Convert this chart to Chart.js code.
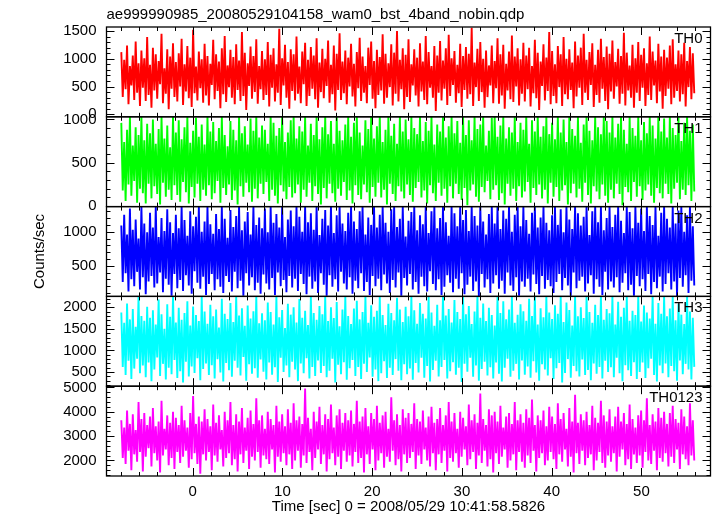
<!DOCTYPE html>
<html>
<head>
<meta charset="utf-8">
<title>WAM light curve</title>
<script src="https://cdn.jsdelivr.net/npm/chart.js@4.4.1/dist/chart.umd.min.js"></script>
<style>
  html, body { margin: 0; padding: 0; background: #fff; }
  #wrap { position: relative; width: 717px; height: 516px; }
</style>
</head>
<body>
<div id="wrap"><canvas id="lcChart" width="717" height="516"></canvas></div>
<script>
const fileTitle = "ae999990985_20080529104158_wam0_bst_4band_nobin.qdp";
const xTitle = "Time [sec] 0 = 2008/05/29 10:41:58.5826";
const yTitle = "Counts/sec";
const bandNames = ["TH0", "TH1", "TH2", "TH3", "TH0123"];
const bandColors = ["#ff0000", "#00ff00", "#0000ff", "#00ffff", "#ff00ff"];

// time bins (sec from reference time)
const tStart = -7.95;
const binSize = 0.16;

// counts/sec, one value per bin
const th0 = [
  1120, 310, 980, 450, 1240, 180, 870, 520, 1060, 260, 1310, 390, 920, 150, 1150, 480, 1010, 240, 1390, 350,
  890, 120, 1200, 430, 1080, 280, 960, 540, 1450, 200, 830, 370, 1170, 90, 1040, 460, 1280, 310, 940, 230,
  1100, 500, 1360, 170, 900, 410, 1230, 290, 1020, 130, 1520, 380, 860, 250, 1130, 470, 990, 210, 1270, 340,
  1050, 160, 910, 530, 1340, 270, 1080, 420, 950, 110, 1190, 360, 1410, 220, 880, 490, 1160, 300, 1030, 180,
  1260, 440, 970, 240, 1480, 330, 1110, 80, 920, 510, 1220, 280, 1050, 400, 1350, 190, 870, 450, 1140, 260,
  990, 350, 1300, 140, 1070, 480, 1190, 230, 900, 390, 1540, 170, 1010, 520, 1250, 300, 940, 100, 1170, 420,
  1080, 250, 1400, 370, 860, 200, 1130, 540, 1290, 150, 980, 330, 1210, 460, 1060, 270, 1370, 120, 930, 400,
  1180, 290, 1000, 510, 1330, 210, 890, 360, 1240, 70, 1090, 440, 1460, 260, 950, 380, 1150, 180, 1020, 500,
  1270, 320, 910, 140, 1120, 470, 1380, 240, 1040, 390, 870, 200, 1200, 530, 1310, 280, 960, 110, 1160, 350,
  1030, 430, 1440, 190, 1090, 300, 920, 490, 1260, 160, 1110, 370, 1500, 230, 980, 450, 1190, 90, 1070, 310,
  1350, 220, 900, 520, 1170, 340, 1020, 140, 1280, 410, 950, 260, 1410, 180, 1120, 480, 870, 300, 1230, 60,
  1060, 390, 1320, 250, 970, 460, 1190, 170, 1430, 330, 1010, 530, 1140, 210, 890, 380, 1270, 130, 1050, 440,
  1210, 280, 1090, 360, 1560, 150, 930, 490, 1180, 240, 1300, 400, 1000, 120, 1150, 310, 880, 520, 1240, 200,
  960, 470, 1370, 190, 1080, 340, 1250, 100, 910, 430, 1130, 270, 1420, 220, 1040, 500, 1190, 160, 990, 370,
  1290, 230, 1060, 450, 1200, 140, 870, 380, 1340, 290, 1110, 80, 950, 510, 1260, 250, 1020, 420, 1480, 180,
  1140, 330, 900, 200, 1230, 490, 1080, 150, 1390, 360, 1000, 270, 1170, 440, 930, 110, 1310, 320, 1060, 480,
  1200, 170, 1450, 390, 980, 260, 1120, 530, 1280, 130, 890, 350, 1160, 210, 1360, 460, 1030, 240, 1220, 90,
  1090, 410, 1330, 280, 940, 500, 1180, 190, 1050, 370, 1470, 160, 1110, 430, 880, 300, 1250, 120, 1010, 390,
  1300, 240, 1070, 480, 1190, 150, 920, 350, 1400, 260, 1130, 520, 970, 200, 1270, 410, 1040, 100, 1160, 330,
  1020, 460, 1240, 180, 1350, 300, 900, 420, 1150, 230, 1080, 360, 1290, 140, 960, 490, 1210, 270, 1100, 380
];
const th1 = [
  960, 180, 740, 60, 880, 250, 1030, 120, 700, 290, 910, 40, 820, 200, 1030, 150, 760, 30, 950, 260,
  840, 90, 1000, 230, 720, 140, 890, 20, 1030, 270, 780, 110, 930, 190, 680, 70, 1030, 240, 850, 130,
  990, 50, 770, 280, 910, 160, 1030, 30, 730, 220, 870, 100, 1020, 260, 800, 60, 940, 190, 710, 120,
  1030, 240, 860, 80, 970, 150, 750, 290, 900, 40, 1030, 210, 820, 130, 690, 250, 980, 70, 880, 180,
  760, 20, 1030, 230, 840, 110, 920, 270, 710, 160, 1010, 50, 870, 200, 1030, 90, 790, 260, 930, 140,
  880, 280, 720, 60, 1030, 190, 960, 120, 810, 30, 900, 240, 1030, 170, 740, 80, 850, 220, 990, 100,
  1030, 150, 780, 250, 920, 40, 860, 190, 1030, 110, 700, 270, 950, 60, 820, 230, 1030, 140, 770, 20,
  910, 210, 1030, 90, 830, 260, 980, 150, 720, 50, 1030, 200, 870, 120, 760, 280, 940, 70, 1030, 180,
  800, 30, 960, 240, 1030, 130, 850, 80, 700, 250, 990, 160, 890, 40, 1030, 220, 780, 110, 920, 270,
  1030, 100, 740, 190, 880, 20, 1030, 260, 810, 140, 950, 60, 720, 230, 1030, 170, 860, 90, 1000, 250,
  770, 130, 1030, 50, 900, 210, 830, 280, 1030, 100, 750, 180, 970, 30, 870, 240, 1030, 150, 710, 60,
  940, 270, 860, 120, 1030, 200, 790, 40, 920, 230, 1030, 90, 840, 260, 980, 140, 730, 70, 1030, 210,
  820, 10, 990, 180, 760, 250, 1030, 110, 890, 50, 940, 220, 1030, 160, 700, 290, 870, 80, 1020, 190,
  1030, 240, 800, 70, 930, 150, 1030, 20, 780, 260, 910, 120, 850, 200, 1030, 60, 740, 230, 960, 100,
  880, 170, 1030, 280, 720, 40, 990, 210, 860, 130, 1030, 250, 800, 90, 920, 190, 1030, 30, 830, 270,
  960, 110, 770, 220, 1030, 60, 850, 180, 1000, 240, 740, 20, 1030, 150, 890, 260, 810, 100, 1030, 200,
  730, 50, 940, 270, 1030, 130, 870, 30, 760, 230, 1030, 170, 910, 80, 830, 250, 1030, 120, 980, 40,
  850, 190, 1030, 90, 790, 260, 950, 140, 1030, 10, 880, 220, 720, 160, 1030, 60, 900, 280, 810, 110,
  1030, 230, 760, 70, 970, 180, 840, 250, 1030, 120, 930, 40, 780, 210, 1030, 150, 860, 90, 1010, 260,
  790, 140, 1030, 30, 900, 200, 820, 270, 1030, 80, 750, 190, 960, 130, 1030, 240, 870, 60, 940, 170
];
const th2 = [
  1090, 260, 1250, 390, 960, 120, 1340, 300, 1030, 200, 1180, 410, 900, 150, 1369, 330, 1120, 80, 990, 270,
  1280, 350, 1060, 180, 1369, 240, 920, 400, 1200, 110, 1010, 310, 1330, 220, 1140, 60, 980, 380, 1250, 170,
  1050, 290, 1369, 130, 1170, 360, 940, 210, 1300, 90, 1080, 420, 1220, 250, 1369, 160, 1000, 340, 1150, 70,
  1369, 230, 1110, 380, 970, 140, 1260, 300, 1040, 190, 1369, 100, 1190, 350, 910, 260, 1320, 120, 1070, 410,
  1230, 170, 1369, 280, 1020, 60, 1150, 390, 1290, 210, 960, 330, 1369, 140, 1100, 250, 1210, 90, 1050, 370,
  1340, 240, 990, 150, 1369, 320, 1130, 70, 1260, 400, 1060, 200, 1369, 290, 920, 110, 1180, 350, 1310, 180,
  1080, 310, 1369, 130, 1220, 380, 1000, 230, 1369, 80, 1140, 340, 1270, 160, 1030, 270, 1369, 100, 950, 390,
  1190, 220, 1320, 60, 1090, 360, 1369, 190, 980, 300, 1240, 120, 1369, 410, 1120, 240, 1010, 150, 1280, 330,
  1369, 90, 1150, 280, 1040, 170, 1300, 390, 1369, 130, 960, 260, 1210, 70, 1100, 350, 1369, 200, 1060, 310,
  1250, 140, 1369, 370, 1130, 240, 1000, 100, 1330, 290, 1369, 180, 1070, 400, 1190, 60, 1369, 320, 930, 210,
  1160, 380, 1290, 150, 1369, 260, 1020, 90, 1240, 340, 1110, 200, 1369, 120, 980, 420, 1300, 230, 1369, 140,
  1050, 300, 1200, 70, 1369, 190, 1140, 360, 940, 250, 1369, 110, 1270, 310, 1080, 160, 1369, 390, 1170, 80,
  1320, 220, 1010, 340, 1369, 130, 1230, 270, 1090, 50, 1369, 380, 1150, 180, 960, 300, 1260, 100, 1369, 240,
  1120, 360, 1369, 160, 1040, 280, 1310, 90, 1190, 400, 1369, 210, 1000, 130, 1250, 330, 1369, 60, 1080, 270,
  1369, 190, 1170, 310, 970, 120, 1280, 370, 1369, 230, 1060, 80, 1210, 350, 1369, 160, 1130, 290, 1020, 200,
  1240, 100, 1369, 260, 1100, 380, 1330, 140, 990, 320, 1369, 210, 1180, 60, 1040, 400, 1369, 170, 1270, 280,
  1090, 340, 1220, 120, 1369, 240, 950, 360, 1300, 90, 1369, 300, 1140, 190, 1369, 70, 1020, 410, 1200, 150,
  1369, 270, 1070, 180, 1250, 330, 1369, 110, 1160, 250, 980, 390, 1369, 140, 1290, 220, 1050, 60, 1369, 350,
  1130, 200, 1340, 300, 1010, 130, 1369, 380, 1230, 80, 1100, 260, 1369, 170, 940, 340, 1280, 120, 1369, 230,
  1190, 390, 1060, 150, 1369, 270, 1120, 50, 1310, 320, 1369, 190, 1000, 360, 1240, 100, 1369, 280, 1080, 210
];
const th3 = [
  1880, 620, 1640, 430, 2090, 760, 1720, 340, 1960, 580, 1550, 810, 2253, 470, 1800, 650, 1690, 380, 2010, 720,
  1760, 290, 1930, 560, 1600, 840, 2180, 410, 1840, 690, 1500, 330, 2070, 600, 1780, 450, 2253, 780, 1650, 360,
  1990, 520, 1710, 260, 1870, 740, 2140, 400, 1580, 630, 2020, 480, 1820, 820, 1680, 310, 2253, 570, 1900, 700,
  1620, 430, 2060, 660, 1790, 350, 1950, 800, 1530, 490, 2200, 280, 1850, 710, 1730, 540, 2100, 390, 1660, 760,
  2253, 600, 1810, 420, 1980, 850, 1570, 300, 2040, 680, 1740, 460, 1910, 590, 2253, 370, 1630, 790, 1860, 510,
  1700, 330, 2110, 720, 1890, 440, 1600, 610, 2253, 270, 1770, 830, 1940, 500, 1520, 650, 2080, 380, 1830, 740,
  2000, 560, 1650, 290, 2190, 700, 1760, 470, 1920, 820, 1590, 350, 2253, 620, 1870, 410, 1710, 770, 2030, 480,
  1840, 640, 2253, 380, 1680, 530, 2000, 810, 1750, 260, 2120, 670, 1560, 450, 1950, 730, 2253, 320, 1800, 590,
  1610, 780, 1970, 410, 2150, 620, 1720, 340, 1890, 690, 2253, 500, 1640, 840, 2050, 390, 1780, 560, 1920, 290,
  2253, 470, 1820, 750, 1590, 360, 2080, 600, 1870, 430, 1700, 800, 2220, 530, 1950, 310, 1660, 680, 2010, 450,
  1790, 580, 2253, 320, 1930, 710, 1620, 490, 2100, 830, 1850, 370, 1740, 640, 2253, 280, 1880, 550, 1570, 760,
  2060, 400, 1700, 620, 2253, 780, 1810, 350, 1960, 520, 1650, 730, 2170, 440, 1890, 600, 1730, 270, 2253, 690,
  1840, 510, 2030, 830, 1610, 390, 1900, 650, 2253, 300, 1760, 570, 2090, 740, 1680, 420, 1990, 610, 1820, 350,
  1580, 720, 2253, 460, 1870, 280, 2140, 600, 1720, 810, 1950, 390, 2253, 530, 1640, 690, 1830, 330, 2070, 770,
  1910, 440, 1690, 630, 2200, 370, 1800, 750, 2253, 490, 1600, 300, 1980, 680, 1770, 560, 2253, 420, 1880, 820,
  1730, 340, 2050, 590, 1850, 710, 2253, 260, 1660, 480, 2110, 800, 1940, 370, 1580, 640, 2253, 520, 1790, 400,
  2000, 790, 1750, 430, 2253, 550, 1890, 310, 1640, 700, 2060, 460, 1820, 620, 2253, 350, 1710, 760, 1960, 500,
  1860, 610, 2253, 380, 1600, 830, 2130, 470, 1780, 290, 1990, 660, 2253, 540, 1690, 410, 1920, 730, 1820, 340,
  2253, 500, 1670, 720, 2040, 360, 1880, 590, 1740, 810, 2253, 430, 1620, 280, 2100, 650, 1850, 470, 2253, 700,
  1790, 380, 1970, 640, 2253, 520, 1700, 300, 2080, 770, 1830, 450, 1610, 690, 2253, 560, 1900, 330, 1760, 620
];
const th0123 = [
  3650, 2100, 3350, 1850, 4050, 2400, 3500, 1600, 3900, 2250, 3250, 1950, 4400, 2350, 3700, 1550, 3950, 2150, 3450, 2500,
  3800, 1750, 4150, 2300, 3400, 2000, 3600, 1500, 4450, 2200, 3300, 2450, 3850, 1800, 3550, 2100, 4000, 1650, 3750, 2350,
  3450, 1900, 4250, 2150, 3650, 2400, 3350, 1700, 3950, 2050, 4650, 2300, 3500, 1850, 3800, 1450, 3600, 2250, 4100, 2000,
  3700, 2350, 3400, 1600, 4300, 2200, 3550, 1950, 3850, 2450, 3250, 1750, 4000, 2100, 3650, 2300, 4400, 1800, 3450, 2050,
  3900, 1550, 3600, 2250, 4150, 1900, 3350, 2400, 3750, 1650, 4050, 2150, 3500, 2000, 4550, 2350, 3650, 1700, 3850, 2200,
  3300, 2050, 4000, 1850, 3700, 2450, 3450, 1500, 4250, 2150, 3600, 1950, 3900, 2300, 3400, 1800, 4100, 2250, 3550, 1650,
  4350, 2000, 3650, 2400, 3800, 1700, 3500, 2200, 4950, 1900, 3750, 2350, 3300, 1600, 4000, 2100, 3600, 2450, 4200, 1850,
  3450, 2250, 3900, 1550, 3700, 2050, 4300, 2300, 3350, 1800, 3850, 2150, 4100, 1650, 3550, 2400, 3950, 1950, 3650, 2200,
  4050, 1750, 3500, 2350, 4450, 1900, 3600, 2100, 3800, 1500, 4150, 2250, 3400, 1850, 3950, 2450, 3700, 1600, 4250, 2000,
  3550, 2300, 3850, 1700, 4000, 2150, 3300, 1950, 4600, 2400, 3650, 1800, 3900, 2050, 3450, 1550, 4100, 2250, 3750, 1900,
  3950, 2100, 3500, 2350, 4350, 1650, 3700, 2200, 3600, 1850, 4050, 2450, 3350, 2000, 3800, 1750, 4200, 2300, 3550, 1600,
  3700, 2250, 4150, 1900, 3450, 2400, 3850, 1550, 4400, 2100, 3600, 1950, 3950, 2300, 3300, 1700, 4000, 2150, 3750, 2450,
  3400, 1800, 4300, 2050, 3650, 2350, 3900, 1650, 3550, 2200, 4750, 1900, 3700, 2400, 3450, 1750, 4100, 2050, 3850, 1500,
  4000, 2300, 3600, 1850, 4250, 2150, 3350, 2450, 3800, 1700, 3950, 2000, 3500, 2250, 4400, 1600, 3650, 2350, 3900, 1950,
  3550, 1700, 4100, 2200, 3750, 1900, 4500, 2400, 3450, 1550, 3850, 2100, 3650, 2300, 4050, 1800, 3400, 2000, 4200, 2350,
  3800, 2050, 3500, 1650, 4350, 2250, 3700, 1950, 3950, 2450, 3300, 1750, 4150, 2150, 3600, 1500, 4700, 2300, 3550, 1850,
  3900, 2400, 3650, 1800, 4000, 2100, 3450, 2250, 4250, 1600, 3750, 2000, 3550, 2350, 4450, 1900, 3850, 1700, 3600, 2200,
  4100, 1950, 3400, 2300, 3800, 1550, 4200, 2150, 3600, 2450, 3950, 1800, 3500, 2050, 4300, 1650, 3700, 2250, 3350, 1900,
  3850, 2200, 4050, 1700, 3650, 2350, 4550, 2000, 3450, 1850, 3900, 2400, 3600, 1600, 4150, 2100, 3750, 1950, 4000, 2300,
  3500, 1750, 3950, 2150, 4250, 1900, 3700, 2450, 3550, 1650, 4100, 2250, 3800, 2050, 3400, 1800, 4350, 2200, 3650, 2000
];
const bandSeries = [th0, th1, th2, th3, th0123];

// y tick labels per panel, top to bottom
const yTicks0 = [0, 500, 1000, 1500];
const yTicks1 = [0, 500, 1000];
const yTicks2 = [500, 1000];
const yTicks3 = [500, 1000, 1500, 2000];
const yTicks4 = [2000, 3000, 4000, 5000];
const yTickLists = [yTicks0, yTicks1, yTicks2, yTicks3, yTicks4];

// axis ranges per panel, top to bottom
const yMin = [-45, -5, 49, 172, 1360];
const yMax = [1572, 1030, 1369, 2253, 5050];
const yMajor = [500, 500, 500, 500, 1000];
const yMinor = [100, 100, 100, 100, 200];
const xMin = -9.6, xMax = 57.7;

const FONT = "'Liberation Sans', Arial, Helvetica, sans-serif";
const times = th0.map((_, i) => tStart + i * binSize);

function strokeLine(ctx, x1, y1, x2, y2) {
  ctx.beginPath();
  ctx.moveTo(x1, y1);
  ctx.lineTo(x2, y2);
  ctx.stroke();
}

// clip each band to its own panel, then draw qdp-style frames, inward ticks and labels
const qdpPanels = {
  id: "qdpPanels",
  beforeDatasetDraw(chart, args) {
    const ys = chart.scales[args.meta.yAxisID];
    const a = chart.chartArea;
    chart.ctx.save();
    chart.ctx.beginPath();
    chart.ctx.rect(a.left, ys.top, a.right - a.left, ys.bottom - ys.top);
    chart.ctx.clip();
  },
  afterDatasetDraw(chart) {
    chart.ctx.restore();
  },
  afterDraw(chart) {
    const ctx = chart.ctx;
    const a = chart.chartArea;
    const xs = chart.scales.x;
    ctx.save();
    ctx.strokeStyle = "#000";
    bandNames.forEach((name, k) => {
      const ys = chart.scales["y" + k];
      ctx.lineWidth = 1.3;
      ctx.strokeRect(a.left, ys.top, a.right - a.left, ys.bottom - ys.top);
      ctx.lineWidth = 1;
      for (let v = Math.ceil(ys.min / yMinor[k]) * yMinor[k]; v <= ys.max; v += yMinor[k]) {
        const py = Math.round(ys.getPixelForValue(v)) + 0.5;
        const len = v % yMajor[k] === 0 ? 8 : 4;
        strokeLine(ctx, a.left, py, a.left + len, py);
        strokeLine(ctx, a.right, py, a.right - len, py);
      }
      for (let t = Math.ceil(xs.min / 2) * 2; t <= xs.max; t += 2) {
        const px = Math.round(xs.getPixelForValue(t)) + 0.5;
        const len = t % 10 === 0 ? 8 : 4;
        strokeLine(ctx, px, ys.bottom, px, ys.bottom - len);
        strokeLine(ctx, px, ys.top, px, ys.top + len);
      }
      ctx.fillStyle = "#000";
      ctx.font = "15px " + FONT;
      ctx.textAlign = "right";
      ctx.textBaseline = "alphabetic";
      ctx.fillText(name, a.right - 8, ys.top + 16);
    });
    ctx.textAlign = "left";
    ctx.fillText(fileTitle, a.left, 18.5);
    ctx.restore();
  }
};

// stacked axes are laid out bottom-up, so add the lowest panel first
const yScales = {};
for (let k = bandNames.length - 1; k >= 0; k--) {
  yScales["y" + k] = {
    type: "linear",
    position: "left",
    stack: "bands",
    stackWeight: 1,
    min: yMin[k],
    max: yMax[k],
    grid: { display: false, drawTicks: false },
    border: { display: false },
    afterBuildTicks: s => { s.ticks = yTickLists[k].map(v => ({ value: v })); },
    ticks: {
      autoSkip: false,
      padding: 10,
      color: "#000",
      font: { family: FONT, size: 15 },
      callback: v => String(v)
    },
    title: {
      display: k === 2,
      text: yTitle,
      color: "#000",
      padding: 0,
      font: { family: FONT, size: 15 }
    },
    afterFit: s => { s.width = 75.5; }
  };
}

new Chart(document.getElementById("lcChart").getContext("2d"), {
  type: "line",
  data: {
    datasets: bandSeries.map((series, k) => ({
      label: bandNames[k],
      data: series.map((v, i) => ({ x: times[i], y: v })),
      borderColor: bandColors[k],
      borderWidth: 1.9,
      borderJoinStyle: "bevel",
      pointRadius: 0,
      tension: 0,
      fill: false,
      yAxisID: "y" + k
    }))
  },
  options: {
    responsive: false,
    animation: false,
    events: [],
    layout: { padding: { left: 31, right: 6.5, top: 27, bottom: 0 } },
    plugins: {
      legend: { display: false },
      tooltip: { enabled: false }
    },
    scales: Object.assign({
      x: {
        type: "linear",
        min: xMin,
        max: xMax,
        grid: { display: false, drawTicks: false },
        border: { display: false },
        ticks: {
          stepSize: 10,
          includeBounds: false,
          maxRotation: 0,
          padding: 7,
          color: "#000",
          font: { family: FONT, size: 15 },
          callback: v => String(v)
        },
        title: {
          display: true,
          text: xTitle,
          color: "#000",
          padding: 0,
          font: { family: FONT, size: 15 }
        },
        afterFit: s => { s.height = 40; }
      }
    }, yScales)
  },
  plugins: [qdpPanels]
});
</script>
</body>
</html>
